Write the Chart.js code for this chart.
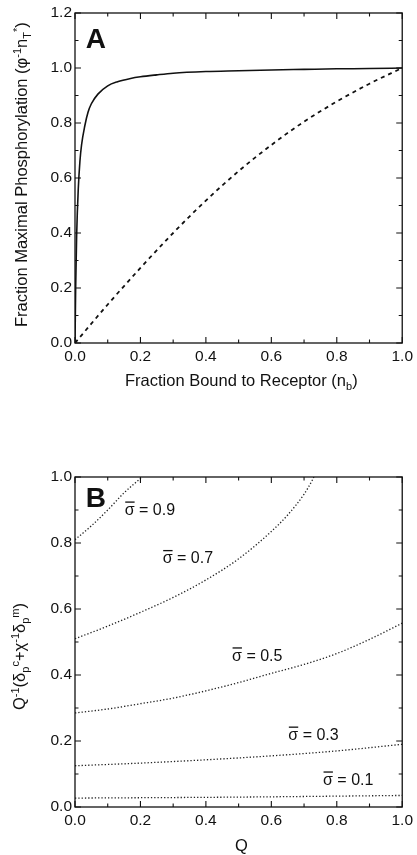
<!DOCTYPE html>
<html>
<head>
<meta charset="utf-8">
<script src="https://cdn.jsdelivr.net/npm/chart.js@4.4.1/dist/chart.umd.min.js"></script>
<style>
  body { margin: 0; background: #fff; }
  #wrap { position: relative; width: 417px; height: 855px; font-family: "Liberation Sans", Arial, sans-serif; color: #111; }
  .panel { position: absolute; left: 0; width: 417px; }
  .title { position: absolute; font-size: 16.5px; white-space: nowrap; line-height: 1; }
  .ytitle { transform-origin: 0 0; transform: rotate(-90deg); }
  sub, sup { font-size: 11px; line-height: 0; }
</style>
</head>
<body>
<div id="wrap">
  <div class="panel" style="top:0;height:430px"><canvas id="chartA" width="417" height="430"></canvas></div>
  <div class="panel" style="top:430px;height:425px"><canvas id="chartB" width="417" height="425"></canvas></div>

  <div class="title ytitle" style="left:13px;top:327px">Fraction Maximal Phosphorylation (&phi;<sup>-1</sup>n<sub>T</sub><sup>*</sup>)</div>
  <div class="title" style="left:125px;top:372px">Fraction Bound to Receptor (n<sub>b</sub>)</div>
  <div class="title ytitle" style="left:11px;top:710px">Q<sup>-1</sup>(&delta;<sub>p</sub><sup>c</sup>+&chi;<sup>-1</sup>&delta;<sub>p</sub><sup>m</sup>)</div>
  <div class="title" style="left:235px;top:837px">Q</div>
</div>
<script>
  // --------------------
  // Panel A data
  // --------------------
  const boundX = [0, 0.002, 0.005, 0.01, 0.015, 0.02, 0.03, 0.04, 0.05, 0.07, 0.1, 0.13, 0.17, 0.2, 0.25, 0.3, 0.4, 0.5, 0.6, 0.7, 0.8, 0.9, 1.0];
  const solidY = [0, 0.2, 0.39, 0.56, 0.66, 0.72, 0.79, 0.84, 0.87, 0.905, 0.935, 0.95, 0.962, 0.968, 0.975, 0.981, 0.987, 0.99, 0.993, 0.995, 0.997, 0.998, 1.0];
  const dashX = [0, 0.1, 0.2, 0.3, 0.4, 0.5, 0.6, 0.7, 0.8, 0.9, 1.0];
  const dashY = [0, 0.14, 0.273, 0.4, 0.518, 0.625, 0.72, 0.805, 0.878, 0.943, 1.0];

  // --------------------
  // Panel B data (one curve per sigma)
  // --------------------
  const s09X = [0, 0.05, 0.1, 0.15, 0.205];
  const s09Y = [0.81, 0.852, 0.9, 0.952, 1.0];
  const s07X = [0, 0.1, 0.2, 0.3, 0.4, 0.5, 0.6, 0.65, 0.7, 0.725, 0.73];
  const s07Y = [0.51, 0.548, 0.59, 0.635, 0.688, 0.752, 0.835, 0.885, 0.948, 0.99, 1.0];
  const s05X = [0, 0.1, 0.2, 0.3, 0.4, 0.5, 0.6, 0.7, 0.8, 0.9, 1.0];
  const s05Y = [0.285, 0.297, 0.313, 0.33, 0.352, 0.377, 0.405, 0.432, 0.465, 0.508, 0.557];
  const s03X = [0, 0.2, 0.4, 0.6, 0.8, 1.0];
  const s03Y = [0.125, 0.133, 0.143, 0.155, 0.17, 0.19];
  const s01X = [0, 0.5, 1.0];
  const s01Y = [0.027, 0.03, 0.035];

  // sigma labels: text and anchor in data units (left, baseline)
  const sigmaText = ["= 0.9", "= 0.7", "= 0.5", "= 0.3", "= 0.1"];
  const sigmaAtX = [0.152, 0.268, 0.48, 0.652, 0.758];
  const sigmaAtY = [0.885, 0.738, 0.443, 0.203, 0.067];

  const FONT = "'Liberation Sans', Arial, sans-serif";

  function pts(xs, ys) {
    return xs.map((x, i) => ({ x: x, y: ys[i] }));
  }

  // --------------------
  // Frame + inward ticks on all four sides
  // --------------------
  const framePlugin = {
    id: "frame",
    afterDatasetsDraw(chart) {
      const { ctx, chartArea: a, scales } = chart;
      const xs = scales.x, ys = scales.y;
      ctx.save();
      ctx.strokeStyle = "#111";
      ctx.lineWidth = 1.3;
      ctx.strokeRect(a.left, a.top, a.right - a.left, a.bottom - a.top);
      ctx.lineWidth = 1.1;
      for (let v = xs.min; v <= xs.max + 1e-9; v += 0.1) {
        const major = Math.abs(Math.round(v * 10) % 2) === 0;
        const len = major ? 6 : 3.5;
        const px = xs.getPixelForValue(v);
        ctx.beginPath();
        ctx.moveTo(px, a.bottom); ctx.lineTo(px, a.bottom - len);
        ctx.moveTo(px, a.top); ctx.lineTo(px, a.top + len);
        ctx.stroke();
      }
      for (let v = ys.min; v <= ys.max + 1e-9; v += 0.1) {
        const major = Math.abs(Math.round(v * 10) % 2) === 0;
        const len = major ? 6 : 3.5;
        const py = ys.getPixelForValue(v);
        ctx.beginPath();
        ctx.moveTo(a.left, py); ctx.lineTo(a.left + len, py);
        ctx.moveTo(a.right, py); ctx.lineTo(a.right - len, py);
        ctx.stroke();
      }
      ctx.restore();
    },
  };

  // --------------------
  // Panel letter and sigma labels
  // --------------------
  const labelPlugin = {
    id: "labels",
    afterDatasetsDraw(chart, args, opts) {
      const { ctx, scales } = chart;
      ctx.save();
      ctx.fillStyle = "#111";
      ctx.textBaseline = "alphabetic";
      ctx.font = "bold 28px " + FONT;
      ctx.fillText(opts.letter, scales.x.getPixelForValue(opts.letterX), scales.y.getPixelForValue(opts.letterY));
      if (opts.sigma) {
        ctx.font = "16px " + FONT;
        sigmaText.forEach((t, i) => {
          const px = scales.x.getPixelForValue(sigmaAtX[i]);
          const py = scales.y.getPixelForValue(sigmaAtY[i]);
          ctx.fillText("σ", px, py);
          const w = ctx.measureText("σ").width;
          ctx.fillRect(px + 0.5, py - 13.5, w - 0.5, 1.3);
          ctx.fillText(" " + t, px + w, py);
        });
      }
      ctx.restore();
    },
  };

  function makeOptions(yMax, areaTop, xHeight, letter, letterX, letterY, sigma) {
    return {
      responsive: false,
      animation: false,
      layout: { padding: { top: areaTop, right: 12, left: 0, bottom: 0 } },
      plugins: {
        legend: { display: false },
        tooltip: { enabled: false },
        labels: { letter, letterX, letterY, sigma },
      },
      scales: {
        x: {
          type: "linear", min: 0, max: 1,
          grid: { display: false, drawTicks: false },
          border: { display: false },
          ticks: { stepSize: 0.2, padding: 4, color: "#111", font: { family: FONT, size: 15.5 }, maxRotation: 0,
                   callback: (v) => v.toFixed(1) },
          afterFit: (s) => { s.height = xHeight; },
        },
        y: {
          type: "linear", min: 0, max: yMax,
          grid: { display: false, drawTicks: false },
          border: { display: false },
          ticks: { stepSize: 0.2, padding: 3, color: "#111", font: { family: FONT, size: 15.5 },
                   callback: (v) => v.toFixed(1) },
          afterFit: (s) => { s.width = 75; },
        },
      },
    };
  }

  // --------------------
  // Chart A
  // --------------------
  new Chart(document.getElementById("chartA").getContext("2d"), {
    type: "line",
    data: {
      datasets: [
        { data: pts(boundX, solidY), borderColor: "#111", borderWidth: 1.6, pointRadius: 0, cubicInterpolationMode: "monotone" },
        { data: pts(dashX, dashY), borderColor: "#111", borderWidth: 1.8, borderDash: [4, 4], pointRadius: 0, cubicInterpolationMode: "monotone" },
      ],
    },
    options: makeOptions(1.2, 13, 87, "A", 0.033, 1.073, false),
    plugins: [framePlugin, labelPlugin],
  });

  // --------------------
  // Chart B
  // --------------------
  const dotted = { borderColor: "#222", borderWidth: 1.3, borderDash: [1.3, 2], pointRadius: 0, cubicInterpolationMode: "monotone" };
  new Chart(document.getElementById("chartB").getContext("2d"), {
    type: "line",
    data: {
      datasets: [
        { ...dotted, data: pts(s09X, s09Y) },
        { ...dotted, data: pts(s07X, s07Y) },
        { ...dotted, data: pts(s05X, s05Y) },
        { ...dotted, data: pts(s03X, s03Y) },
        { ...dotted, data: pts(s01X, s01Y) },
      ],
    },
    options: makeOptions(1.0, 47, 48, "B", 0.033, 0.909, true),
    plugins: [framePlugin, labelPlugin],
  });
</script>
</body>
</html>
